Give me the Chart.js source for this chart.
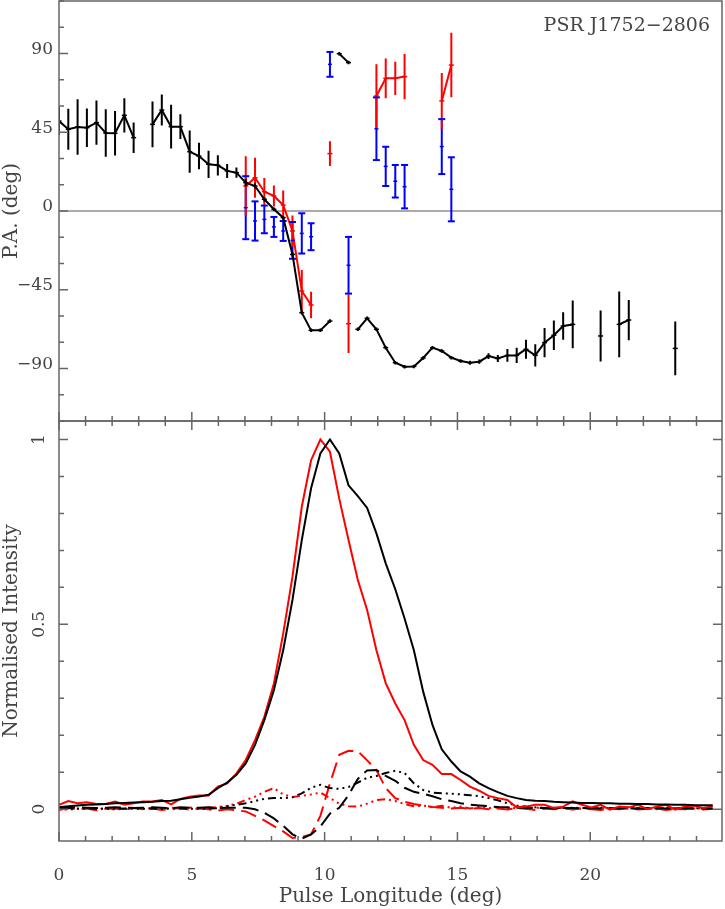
<!DOCTYPE html>
<html lang="en">
<head>
<meta charset="UTF-8">
<title>PSR J1752-2806 polarisation profile</title>
<script src="https://cdn.jsdelivr.net/npm/chart.js@4.4.1/dist/chart.umd.min.js"></script>
<style>
    body { margin: 0; background: #fff; }
    #wrap { position: relative; width: 725px; height: 909px; }
    #wrap canvas { position: absolute; left: 0; top: 0; }
</style>
</head>
<body>

<div id="wrap">
    <canvas id="profCanvas" width="725" height="909"></canvas>
    <canvas id="paCanvas" width="725" height="909"></canvas>
</div>

<script>
// pulse longitude of each bin (deg)
const longitude = [
    0.00, 0.35, 0.70, 1.05, 1.41, 1.76, 2.11, 2.46, 2.81, 3.16,
    3.52, 3.87, 4.22, 4.57, 4.92, 5.27, 5.63, 5.98, 6.33, 6.68,
    7.03, 7.38, 7.73, 8.09, 8.44, 8.79, 9.14, 9.49, 9.84, 10.20,
    10.55, 10.90, 11.25, 11.60, 11.95, 12.30, 12.66, 13.01, 13.36, 13.71,
    14.06, 14.41, 14.77, 15.12, 15.47, 15.82, 16.17, 16.52, 16.88, 17.23,
    17.58, 17.93, 18.28, 18.63, 18.98, 19.34, 19.69, 20.04, 20.39, 20.74,
    21.09, 21.45, 21.80, 22.15, 22.50, 22.85, 23.20, 23.55, 23.91, 24.26,
    24.61
];

// position angle, black / red / blue, with errors (deg)
const paBlack = [
    51.4, 46.7, 48.0, 47.6, 50.5, 44.6, 44.4, 54.7, 41.9, null,
    49.5, 57.7, 48.2, 48.2, 33.9, 31.4, 26.7, 26.1, 22.9, 21.9,
    16.2, 14.3, 6.7, 1.0, -3.8, -24.8, -58.1, -68.2, -68.2, -62.9,
    89.9, 84.8, -67.6, -61.3, -67.6, -78.1, -86.7, -89.0, -88.8, -84.0,
    -78.1, -80.0, -83.8, -85.7, -86.7, -86.1, -82.9, -84.3, -82.5, -82.5,
    -79.0, -82.5, -75.2, -71.0, -65.7, -64.8, null, null, -71.4, null,
    -64.8, -62.3, null, null, null, null, -78.5, null, null, null,
    null
];
const paBlackErr = [
    8.0, 11.7, 15.9, 11.0, 12.6, 13.6, 12.7, 9.8, 8.7, null,
    13.1, 8.9, 12.5, 7.1, 12.1, 7.6, 7.8, 5.8, 4.0, 2.9,
    2.0, 1.5, 1.2, 1.0, 1.0, 1.2, 1.0, 1.0, 1.0, 1.0,
    1.0, 1.0, 1.0, 1.0, 1.0, 1.0, 1.0, 1.0, 1.0, 1.0,
    1.0, 1.0, 1.0, 1.0, 1.2, 1.2, 1.6, 2.0, 3.6, 4.3,
    5.4, 6.4, 8.4, 8.4, 7.9, 13.6, null, null, 14.6, null,
    18.8, 11.5, null, null, null, null, 15.3, null, null, null,
    null
];
const paRed = [
    null, null, null, null, null, null, null, null, null, null,
    null, null, null, null, null, null, null, null, null, null,
    14.3, 19.0, 11.0, 8.6, 3.4, -11.4, -45.7, -53.7, null, 32.8,
    null, -64.4, null, null, 65.7, 75.8, 75.8, 76.8, null, null,
    null, 62.9, 83.4, null, null, null, null, null, null, null,
    null, null, null, null, null, null, null, null, null, null,
    null, null, null, null, null, null, null, null, null, null,
    null
];
const paRedErr = [
    null, null, null, null, null, null, null, null, null, null,
    null, null, null, null, null, null, null, null, null, null,
    17.0, 11.4, 7.8, 6.0, 8.3, 8.9, 12.0, 7.6, null, 7.1,
    null, 16.7, null, null, 18.2, 11.4, 9.5, 12.9, null, null,
    null, 16.0, 18.4, null, null, null, null, null, null, null,
    null, null, null, null, null, null, null, null, null, null,
    null, null, null, null, null, null, null, null, null, null,
    null
];
const paBlue = [
    null, null, null, null, null, null, null, null, null, null,
    null, null, null, null, null, null, null, null, null, null,
    1.9, -5.7, -4.8, -9.1, -11.4, -16.8, -12.8, -14.7, null, 83.8,
    null, -31.0, null, null, 47.0, 25.5, 17.0, 13.9, null, null,
    null, 36.8, 12.4, null, null, null, null, null, null, null,
    null, null, null, null, null, null, null, null, null, null,
    null, null, null, null, null, null, null, null, null, null,
    null
];
const paBlueErr = [
    null, null, null, null, null, null, null, null, null, null,
    null, null, null, null, null, null, null, null, null, null,
    18.0, 11.2, 7.9, 5.7, 5.7, 10.5, 11.5, 7.7, null, 7.1,
    null, 16.2, null, null, 17.9, 11.2, 9.3, 12.4, null, null,
    null, 15.7, 18.3, null, null, null, null, null, null, null,
    null, null, null, null, null, null, null, null, null, null,
    null, null, null, null, null, null, null, null, null, null,
    null
];

// normalised profiles: total (I), linear (L) and circular (V), black and red
const totalBlack = [
    0.005, 0.008, 0.010, 0.012, 0.013, 0.014, 0.016, 0.017, 0.018, 0.019,
    0.020, 0.022, 0.023, 0.027, 0.031, 0.034, 0.039, 0.057, 0.072, 0.093,
    0.124, 0.174, 0.241, 0.322, 0.430, 0.566, 0.728, 0.868, 0.962, 1.000,
    0.962, 0.876, 0.847, 0.815, 0.746, 0.665, 0.595, 0.516, 0.430, 0.318,
    0.228, 0.162, 0.129, 0.102, 0.088, 0.070, 0.057, 0.046, 0.036, 0.030,
    0.025, 0.023, 0.022, 0.020, 0.019, 0.018, 0.017, 0.017, 0.016, 0.016,
    0.015, 0.015, 0.014, 0.014, 0.013, 0.013, 0.012, 0.012, 0.011, 0.011,
    0.011
];
const totalRed = [
    0.012, 0.022, 0.016, 0.019, 0.014, 0.014, 0.021, 0.012, 0.016, 0.021,
    0.021, 0.025, 0.013, 0.028, 0.034, 0.037, 0.037, 0.061, 0.070, 0.097,
    0.133, 0.187, 0.250, 0.340, 0.475, 0.629, 0.818, 0.944, 1.000, 0.967,
    0.840, 0.728, 0.620, 0.539, 0.430, 0.341, 0.286, 0.241, 0.174, 0.133,
    0.120, 0.095, 0.095, 0.079, 0.061, 0.050, 0.036, 0.030, 0.025, 0.005,
    0.007, 0.012, 0.012, 0.003, 0.007, 0.021, 0.012, 0.005, 0.012, -0.001,
    0.007, 0.005, 0.012, 0.000, 0.007, 0.012, -0.001, 0.007, 0.010, 0.003,
    0.008
];
const linearBlack = [
    0.004, 0.003, 0.005, 0.004, 0.003, 0.004, 0.005, 0.004, 0.003, 0.004,
    0.005, 0.004, 0.003, 0.005, 0.004, 0.004, 0.005, 0.003, 0.004, 0.004,
    0.004, 0.000, -0.010, -0.025, -0.045, -0.068, -0.080, -0.068, -0.047, -0.012,
    0.004, 0.038, 0.082, 0.105, 0.106, 0.090, 0.077, 0.058, 0.047, 0.042,
    0.035, 0.027, 0.022, 0.016, 0.012, 0.010, 0.008, 0.006, 0.005, 0.004,
    0.003, 0.004, 0.003, 0.002, 0.003, 0.003, 0.002, 0.003, 0.002, 0.003,
    0.002, 0.003, 0.002, 0.002, 0.003, 0.002, 0.002, 0.003, 0.002, 0.002,
    0.002
];
const circBlack = [
    0.001, 0.002, 0.001, 0.002, 0.001, 0.001, 0.002, 0.001, 0.002, 0.001,
    0.002, 0.001, 0.002, 0.002, 0.001, 0.002, 0.002, 0.003, 0.008, 0.012,
    0.016, 0.022, 0.028, 0.030, 0.030, 0.032, 0.043, 0.058, 0.066, 0.057,
    0.055, 0.060, 0.072, 0.085, 0.090, 0.098, 0.104, 0.098, 0.070, 0.052,
    0.045, 0.043, 0.042, 0.040, 0.038, 0.035, 0.030, 0.024, 0.016, 0.010,
    0.007, 0.005, 0.004, 0.004, 0.003, 0.004, 0.003, 0.003, 0.004, 0.003,
    0.003, 0.002, 0.003, 0.003, 0.002, 0.003, 0.002, 0.002, 0.003, 0.002,
    0.002
];
const linearRed = [
    -0.002, 0.003, -0.001, 0.002, -0.003, 0.001, 0.002, -0.002, 0.003, 0.000,
    0.002, -0.002, 0.001, 0.003, -0.001, 0.002, 0.000, -0.004, 0.000, -0.003,
    -0.006, -0.018, -0.030, -0.046, -0.060, -0.078, -0.075, -0.068, -0.018, 0.070,
    0.147, 0.158, 0.157, 0.132, 0.106, 0.057, 0.030, 0.020, 0.014, 0.010,
    0.006, 0.004, 0.002, 0.004, 0.001, 0.003, 0.000, 0.002, -0.001, 0.003,
    0.001, -0.002, 0.002, 0.000, 0.003, -0.001, 0.002, 0.000, -0.002, 0.002,
    0.000, 0.003, -0.001, 0.001, 0.002, -0.002, 0.001, 0.000, 0.002, -0.001,
    0.001
];
const circRed = [
    0.003, -0.002, 0.002, 0.004, 0.000, 0.003, -0.001, 0.002, 0.004, 0.001,
    0.003, 0.000, 0.004, 0.002, 0.005, 0.001, 0.004, 0.006, 0.009, 0.015,
    0.025, 0.034, 0.047, 0.057, 0.040, 0.033, 0.036, 0.040, 0.045, 0.030,
    0.015, 0.008, 0.007, 0.015, 0.025, 0.027, 0.022, 0.014, 0.008, 0.010,
    0.005, 0.009, 0.004, 0.007, 0.002, 0.006, 0.003, 0.005, 0.001, 0.004,
    0.002, 0.005, 0.001, 0.003, 0.004, 0.000, 0.003, 0.002, 0.005, 0.001,
    0.003, 0.001, 0.004, 0.002, 0.000, 0.003, 0.002, 0.004, 0.001, 0.003,
    0.002
];

// axes
const lonRange = [0, 24.96];
const lonTicks = [0, 5, 10, 15, 20];
const paRange = [-120, 120];
const paTicks = [-90, -45, 0, 45, 90];
const intRange = [-0.086, 1.05];
const intTicks = [0, 0.5, 1];

const FONT = "'DejaVu Serif', serif";
const TEXT = '#444';
const FRAME = '#666';
const MAJOR = 9, MINOR = 5;

Chart.defaults.font.family = FONT;
Chart.defaults.color = TEXT;

function pts(arr) {
    return longitude.map((x, i) => ({ x: x, y: arr[i] }));
}

// vertical error bars as one broken line
function errSegments(vals, errs) {
    const out = [];
    vals.forEach((v, i) => {
        if (v === null) return;
        out.push({ x: longitude[i], y: v - errs[i] }, { x: longitude[i], y: v + errs[i] }, { x: longitude[i], y: null });
    });
    return out;
}

function errEnds(vals, errs) {
    const out = [];
    vals.forEach((v, i) => {
        if (v === null) return;
        out.push({ x: longitude[i], y: v - errs[i] }, { x: longitude[i], y: v + errs[i] });
    });
    return out;
}

function minusSign(v) {
    return v < 0 ? '\u2212' + Math.abs(v) : String(v);
}

// fixed axis sizes, no extra room for end labels
function fixWidth(w) {
    return s => { s.width = w; s.paddingTop = 0; s.paddingBottom = 0; };
}
function fixHeight(h) {
    return s => { s.height = h; s.paddingLeft = 0; s.paddingRight = 0; };
}

// box with inward ticks, PGPLOT style
function framePlugin(sides, yMinor, yMajorEvery, label) {
    return {
        id: 'frame',
        afterDatasetsDraw(chart) {
            const { ctx, chartArea: a, scales } = chart;
            const xs = scales.x, ys = scales.y;
            ctx.save();
            ctx.strokeStyle = FRAME;
            ctx.lineWidth = 1.5;
            ctx.strokeRect(a.left, a.top, a.right - a.left, a.bottom - a.top);
            ctx.beginPath();
            for (let v = Math.ceil(xs.min); v <= xs.max; v++) {
                const px = xs.getPixelForValue(v);
                const len = v % 5 === 0 ? MAJOR : MINOR;
                if (sides.bottom) { ctx.moveTo(px, a.bottom); ctx.lineTo(px, a.bottom - len); }
                if (sides.top) { ctx.moveTo(px, a.top); ctx.lineTo(px, a.top + len); }
            }
            for (let k = Math.ceil(ys.min / yMinor); k * yMinor <= ys.max; k++) {
                const py = ys.getPixelForValue(k * yMinor);
                const len = k % yMajorEvery === 0 ? MAJOR : MINOR;
                if (sides.left) { ctx.moveTo(a.left, py); ctx.lineTo(a.left + len, py); }
                if (sides.right) { ctx.moveTo(a.right, py); ctx.lineTo(a.right - len, py); }
            }
            ctx.stroke();
            if (label) {
                ctx.fillStyle = TEXT;
                ctx.font = "19px " + FONT;
                ctx.textAlign = 'right';
                ctx.textBaseline = 'alphabetic';
                ctx.fillText(label, a.right - 12, a.top + 30);
            }
            ctx.restore();
        }
    };
}

// ---- top panel: position angle ----
new Chart(document.getElementById('paCanvas'), {
    type: 'line',
    data: {
        datasets: [
            {
                data: pts(paBlack), borderColor: '#000', borderWidth: 2,
                pointStyle: 'line', pointRadius: 2.5, pointBorderWidth: 1.5, pointBorderColor: '#000',
                spanGaps: false, order: 0,
                // break the line where the angle wraps round
                segment: { borderColor: c => Math.abs(c.p1.parsed.y - c.p0.parsed.y) > 90 ? 'rgba(0,0,0,0)' : undefined }
            },
            { data: errSegments(paBlack, paBlackErr), borderColor: '#000', borderWidth: 2, pointRadius: 0, spanGaps: false, order: 1 },
            {
                data: errEnds(paBlue, paBlueErr), showLine: false, pointStyle: 'line', pointRadius: 3.5,
                pointBorderWidth: 2, pointBorderColor: '#0000ff', order: 2
            },
            {
                data: pts(paBlue), showLine: false, pointStyle: 'line', pointRadius: 2,
                pointBorderWidth: 1.5, pointBorderColor: '#0000ff', order: 2
            },
            {
                data: pts(paRed), borderColor: '#ff0000', borderWidth: 2,
                pointStyle: 'line', pointRadius: 2.5, pointBorderWidth: 1.5, pointBorderColor: '#ff0000',
                spanGaps: false, order: 3
            },
            { data: errSegments(paRed, paRedErr), borderColor: '#ff0000', borderWidth: 2, pointRadius: 0, spanGaps: false, order: 4 },
            { data: errSegments(paBlue, paBlueErr), borderColor: '#0000ff', borderWidth: 2, pointRadius: 0, spanGaps: false, order: 5 },
            { data: [{ x: lonRange[0], y: 0 }, { x: lonRange[1], y: 0 }], borderColor: '#aaa', borderWidth: 2, pointRadius: 0, order: 9 }
        ]
    },
    options: {
        responsive: false,
        animation: false,
        layout: { autoPadding: false, padding: { left: 0, top: 1, right: 3, bottom: 488 } },
        plugins: { legend: { display: false }, tooltip: { enabled: false } },
        scales: {
            x: { type: 'linear', min: lonRange[0], max: lonRange[1], display: false },
            y: {
                min: paRange[0], max: paRange[1],
                afterFit: fixWidth(59),
                afterBuildTicks: s => { s.ticks = paTicks.map(v => ({ value: v })); },
                grid: { display: false, drawTicks: false, tickLength: 0 },
                border: { display: false },
                ticks: { font: { size: 17 }, padding: 6, labelOffset: -4, autoSkip: false, callback: v => minusSign(v) },
                title: { display: true, text: 'P.A. (deg)', font: { size: 20 }, padding: { top: 0, bottom: 0 } }
            }
        }
    },
    plugins: [framePlugin({ left: true, bottom: true }, 15, 3, 'PSR J1752\u22122806')]
});

// ---- bottom panel: profiles ----
function profile(arr, color, dash, order) {
    return { data: pts(arr), borderColor: color, borderWidth: 2, borderDash: dash, pointRadius: 0, order: order };
}
const DASH = [16, 7];
const DASH_DOT = [8, 4, 2, 4, 2, 4, 2, 4];

new Chart(document.getElementById('profCanvas'), {
    type: 'line',
    data: {
        datasets: [
            profile(totalBlack, '#000', [], 0),
            profile(totalRed, '#ff0000', [], 1),
            profile(linearBlack, '#000', DASH, 2),
            profile(circBlack, '#000', DASH_DOT, 3),
            profile(linearRed, '#ff0000', DASH, 4),
            profile(circRed, '#ff0000', DASH_DOT, 5)
        ]
    },
    options: {
        responsive: false,
        animation: false,
        layout: { autoPadding: false, padding: { left: 0, top: 421, right: 3, bottom: 0 } },
        plugins: { legend: { display: false }, tooltip: { enabled: false } },
        scales: {
            x: {
                type: 'linear', min: lonRange[0], max: lonRange[1],
                afterFit: fixHeight(68),
                afterBuildTicks: s => { s.ticks = lonTicks.map(v => ({ value: v })); },
                grid: { display: false, drawTicks: false, tickLength: 0 },
                border: { display: false },
                ticks: { font: { size: 17 }, padding: 24, maxRotation: 0, autoSkip: false },
                title: { display: true, text: 'Pulse Longitude (deg)', font: { size: 20 }, padding: { top: 0, bottom: 0 } }
            },
            y: {
                min: intRange[0], max: intRange[1],
                afterFit: fixWidth(59),
                afterBuildTicks: s => { s.ticks = intTicks.map(v => ({ value: v })); },
                grid: { display: false, drawTicks: false, tickLength: 0 },
                border: { display: false },
                ticks: { font: { size: 17 }, padding: 5.5, minRotation: 90, maxRotation: 90, crossAlign: 'center', autoSkip: false, callback: v => String(v) },
                title: { display: true, text: 'Normalised Intensity', font: { size: 20 }, padding: { top: 0, bottom: 0 } }
            }
        }
    },
    plugins: [framePlugin({ left: true, right: true, top: true, bottom: true }, 0.1, 5, null)]
});
</script>
</body>
</html>
